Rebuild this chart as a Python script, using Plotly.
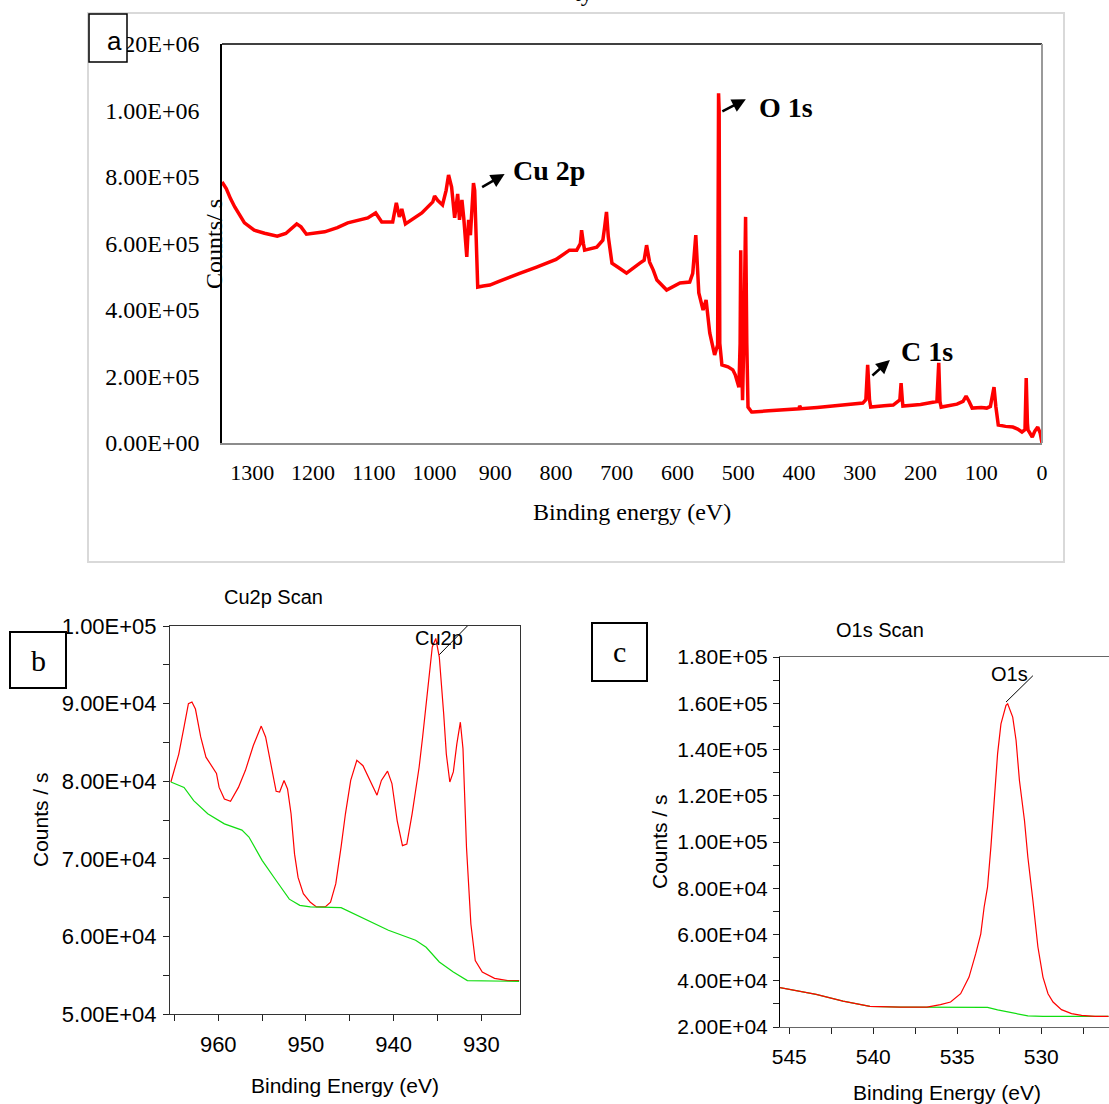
import plotly.graph_objects as go

W, H = 1109, 1104

# ---------------- Panel a: survey spectrum ----------------
survey_ev = [1350, 1343, 1336, 1329, 1313, 1297, 1280, 1259, 1245, 1235, 1227, 1220, 1211,
             1181, 1160, 1143, 1110, 1097, 1087, 1069, 1063, 1058, 1054, 1048, 1021, 1003,
             1000, 995, 987, 981, 977, 972, 967, 962, 959, 955, 952, 947, 944, 941, 936,
             934, 930, 929, 920, 909, 895, 881, 860, 832, 800, 778, 766, 760, 758, 755,
             753, 733, 723, 720, 717, 714, 708, 695, 684, 662, 655, 651, 647, 646, 640,
             634, 618, 596, 580, 575, 570, 567, 565, 558, 553, 550, 547, 539, 535, 534,
             532.5, 531.5, 530.5, 527, 517, 509, 505, 502, 499, 497, 496, 495, 493, 491,
             488, 486, 484, 478, 476, 450, 420, 400, 399, 397, 370, 344, 320, 295, 290,
             287, 284, 282, 260, 245, 234, 232, 230, 229, 200, 185, 173, 170, 168, 166,
             140, 130, 125, 120, 115, 100, 91, 85, 79, 76, 72, 60, 48, 40, 33, 28, 26,
             24, 23, 16, 12, 7, 3, 0]
survey_counts = [785000, 765000, 735000, 710000, 662000, 640000, 631000, 622000, 630000,
                 645000, 659000, 650000, 628000, 635000, 648000, 662000, 677000, 692000,
                 665000, 665000, 722000, 680000, 704000, 659000, 692000, 725000, 743000,
                 730000, 716000, 760000, 806000, 770000, 677000, 749000, 671000, 731000,
                 677000, 560000, 671000, 625000, 782000, 760000, 480000, 469000, 472000,
                 475000, 485000, 496000, 510000, 529000, 552000, 580000, 580000, 600000,
                 640000, 600000, 580000, 589000, 610000, 650000, 695000, 620000, 541000,
                 525000, 511000, 541000, 550000, 595000, 560000, 544000, 520000, 490000,
                 460000, 481000, 484000, 510000, 625000, 540000, 451000, 400000, 430000,
                 380000, 331000, 265000, 289000, 295000, 1052000, 1000000, 300000, 235000,
                 229000, 220000, 205000, 190000, 168000, 300000, 580000, 300000, 129000,
                 300000, 680000, 300000, 108000, 93000, 93000, 97000, 100000, 103000,
                 112000, 103000, 107000, 111000, 115000, 120000, 130000, 235000, 130000,
                 108000, 112000, 114000, 130000, 180000, 130000, 111000, 116000, 120000,
                 125000, 241000, 125000, 108000, 117000, 125000, 141000, 125000, 105000,
                 107000, 105000, 110000, 168000, 110000, 54000, 50000, 48000, 42000, 33000,
                 40000, 195000, 60000, 39000, 18000, 35000, 48000, 30000, 0]
survey_xticks = [1300, 1200, 1100, 1000, 900, 800, 700, 600, 500, 400, 300, 200, 100, 0]
survey_yticks = [0, 200000, 400000, 600000, 800000, 1000000, 1200000]
survey_yticktext = ["0.00E+00", "2.00E+05", "4.00E+05", "6.00E+05", "8.00E+05",
                    "1.00E+06", "1.20E+06"]

# ---------------- Panel b: Cu2p scan ----------------
cu_ev = [965.4, 964.5, 963.9, 963.4, 963.0, 962.6, 962.0, 961.4, 960.2, 959.9, 959.3,
         958.6, 957.7, 956.9, 956.0, 955.1, 954.6, 954.0, 953.4, 953.0, 952.5, 952.1,
         951.7, 951.3, 950.9, 950.3, 949.5, 948.8, 947.8, 947.2, 946.6, 946.0, 945.5,
         944.9, 944.2, 943.5, 942.7, 941.9, 941.4, 940.7, 940.2, 939.6, 939.0, 938.5,
         937.9, 937.1, 936.7, 936.1, 935.6, 935.2, 934.8, 934.3, 934.0, 933.6, 933.2,
         932.8, 932.4, 932.1, 931.7, 931.2, 930.7, 929.9, 928.5, 927.0, 925.7]
cu_counts = [79900, 83500, 87000, 90000, 90200, 89300, 85700, 83100, 81000, 79200, 77700,
             77400, 79200, 81400, 84600, 87100, 85700, 82300, 78700, 78600, 80100, 79000,
             75800, 70600, 67600, 65500, 64400, 63800, 63800, 64400, 66800, 71500, 75800,
             80100, 82700, 82000, 80100, 78200, 80100, 81300, 79700, 74900, 71700, 71900,
             75800, 81800, 85700, 92100, 97300, 98400, 96000, 88700, 83500, 79900, 81200,
             84800, 87600, 84200, 71500, 61600, 56900, 55400, 54600, 54300, 54300]
cu_bg_ev = [965.4, 963.9, 962.8, 961.2, 959.3, 957.3, 956.5, 955.0, 953.4, 951.9, 950.7,
            949.5, 946.0, 943.7, 940.6, 937.5, 936.3, 934.8, 933.2, 931.6, 925.7]
cu_bg_counts = [79900, 79200, 77500, 75800, 74500, 73700, 72800, 69800, 67200, 64800, 64000,
                63800, 63700, 62500, 60800, 59500, 58600, 56700, 55400, 54300, 54200]
cu_xtickvals = [965, 960, 955, 950, 945, 940, 935, 930]
cu_xticktext = ["", "960", "", "950", "", "940", "", "930"]
cu_ytickvals = [50000, 55000, 60000, 65000, 70000, 75000, 80000, 85000, 90000, 95000, 100000]
cu_yticktext = ["5.00E+04", "", "6.00E+04", "", "7.00E+04", "", "8.00E+04", "",
                "9.00E+04", "", "1.00E+05"]

# ---------------- Panel c: O1s scan ----------------
o_ev = [545.55, 544.8, 543.4, 541.8, 540.2, 538.4, 536.8, 536.0, 535.4, 534.8, 534.3, 533.9,
        533.6, 533.4, 533.2, 533.0, 532.8, 532.6, 532.4, 532.1, 532.0, 531.7, 531.5, 531.3,
        531.0, 530.8, 530.5, 530.2, 529.9, 529.6, 529.3, 528.8, 528.2, 527.6, 526.8, 526.0]
o_counts = [37000, 36100, 34100, 31200, 28900, 28600, 28600, 29700, 30800, 34400, 41600,
            51700, 60300, 71900, 80500, 97800, 118000, 138200, 151100, 159100, 159800,
            154000, 143900, 126600, 109300, 93500, 74800, 54600, 41600, 34400, 30800, 27500,
            25800, 25000, 24600, 24600]
o_bg_ev = [545.55, 544.8, 543.4, 541.8, 540.2, 538.4, 534.8, 533.2, 532.6, 531.9, 530.8,
           529.9, 526.0]
o_bg_counts = [37000, 35900, 34100, 31200, 28900, 28600, 28600, 28500, 27400, 26400, 24800,
               24600, 24600]
o_xtickvals = [545, 542.5, 540, 537.5, 535, 532.5, 530, 527.5]
o_xticktext = ["545", "", "540", "", "535", "", "530", ""]
o_ytickvals = [20000, 30000, 40000, 50000, 60000, 70000, 80000, 90000, 100000, 110000,
               120000, 130000, 140000, 150000, 160000, 170000, 180000]
o_yticktext = ["2.00E+04", "", "4.00E+04", "", "6.00E+04", "", "8.00E+04", "", "1.00E+05",
               "", "1.20E+05", "", "1.40E+05", "", "1.60E+05", "", "1.80E+05"]


def pxx(p):
    return p / W


def pxy(p):
    return 1 - p / H


SERIF = "Liberation Serif, Times New Roman, serif"
SANS = "Liberation Sans, Arial, sans-serif"

fig = go.Figure()
fig.add_trace(go.Scatter(x=survey_ev, y=survey_counts, mode="lines",
                         line=dict(color="#ff0000", width=3.5), xaxis="x", yaxis="y",
                         showlegend=False))
fig.add_trace(go.Scatter(x=cu_ev, y=cu_counts, mode="lines",
                         line=dict(color="#ff0000", width=1.2), xaxis="x2", yaxis="y2",
                         showlegend=False))
fig.add_trace(go.Scatter(x=cu_bg_ev, y=cu_bg_counts, mode="lines",
                         line=dict(color="#11dd11", width=1.2), xaxis="x2", yaxis="y2",
                         showlegend=False))
fig.add_trace(go.Scatter(x=o_bg_ev, y=o_bg_counts, mode="lines",
                         line=dict(color="#11dd11", width=1.2), xaxis="x3", yaxis="y3",
                         showlegend=False))
fig.add_trace(go.Scatter(x=o_ev, y=o_counts, mode="lines",
                         line=dict(color="#ff0000", width=1.2), xaxis="x3", yaxis="y3",
                         showlegend=False))

fig.update_layout(
    width=W, height=H, margin=dict(l=0, r=0, t=0, b=0, pad=0, autoexpand=False),
    paper_bgcolor="white", plot_bgcolor="white",
    xaxis=dict(domain=[pxx(222), pxx(1042)], range=[1350, 0], anchor="y", automargin=False,
               tickmode="array", tickvals=survey_xticks, ticktext=[str(v) for v in survey_xticks],
               showgrid=False, zeroline=False, showline=True, linecolor="#8c8c8c", linewidth=2,
               ticks="", ticklabelstandoff=9,
               tickfont=dict(family=SERIF, size=22, color="black")),
    yaxis=dict(domain=[pxy(443), pxy(44)], range=[0, 1200000], anchor="x", automargin=False,
               tickmode="array", tickvals=survey_yticks, ticktext=survey_yticktext,
               showgrid=False, zeroline=False, showline=True, linecolor="black", linewidth=1.5,
               ticks="", ticklabelstandoff=16,
               tickfont=dict(family=SERIF, size=24, color="black")),
    xaxis2=dict(domain=[pxx(170), pxx(520)], range=[965.5, 925.6], anchor="y2",
                automargin=False,
                tickmode="array", tickvals=cu_xtickvals, ticktext=cu_xticktext,
                showgrid=False, zeroline=False, showline=True, mirror=True,
                linecolor="#333333", linewidth=1, ticks="outside", ticklen=6, tickcolor="#222",
                ticklabelstandoff=5,
                tickfont=dict(family=SANS, size=22, color="black")),
    yaxis2=dict(domain=[pxy(1014), pxy(626)], range=[50000, 100000], anchor="x2",
                automargin=False,
                tickmode="array", tickvals=cu_ytickvals, ticktext=cu_yticktext,
                showgrid=False, zeroline=False, showline=True, mirror=True,
                linecolor="#333333", linewidth=1, ticks="outside", ticklen=6, tickcolor="#222",
                ticklabelstandoff=2,
                tickfont=dict(family=SANS, size=22, color="black")),
    xaxis3=dict(domain=[pxx(780), 1.0], range=[545.55, 525.97], anchor="y3",
                automargin=False,
                tickmode="array", tickvals=o_xtickvals, ticktext=o_xticktext,
                showgrid=False, zeroline=False, showline=True, mirror=True,
                linecolor="#666666", linewidth=1, ticks="outside", ticklen=6, tickcolor="#222",
                ticklabelstandoff=5,
                tickfont=dict(family=SANS, size=21, color="black")),
    yaxis3=dict(domain=[pxy(1027), pxy(657)], range=[20000, 180000], anchor="x3",
                automargin=False,
                tickmode="array", tickvals=o_ytickvals, ticktext=o_yticktext,
                showgrid=False, zeroline=False, showline=True, mirror=False,
                linecolor="black", linewidth=1, ticks="outside", ticklen=6, tickcolor="#222",
                ticklabelstandoff=1,
                tickfont=dict(family=SANS, size=21, color="black")),
)

shapes = [
    # outer light border of panel a
    dict(type="rect", xref="paper", yref="paper", x0=pxx(88), x1=pxx(1064), y0=pxy(562),
         y1=pxy(13), line=dict(color="#d9d9d9", width=2), layer="below"),
    # panel a top and right frame lines
    dict(type="line", xref="x domain", yref="y domain", x0=0, x1=1, y0=1, y1=1,
         line=dict(color="black", width=1.5)),
    dict(type="line", xref="x domain", yref="y domain", x0=1, x1=1, y0=0, y1=1,
         line=dict(color="#9a9a9a", width=2)),
    # label boxes
    dict(type="rect", xref="paper", yref="paper", x0=pxx(89), x1=pxx(127), y0=pxy(62),
         y1=pxy(14), line=dict(color="black", width=1.5), fillcolor="white", layer="above"),
    dict(type="rect", xref="paper", yref="paper", x0=pxx(10), x1=pxx(66), y0=pxy(688),
         y1=pxy(632), line=dict(color="black", width=2), fillcolor="white", layer="above"),
    dict(type="rect", xref="paper", yref="paper", x0=pxx(592), x1=pxx(647), y0=pxy(681),
         y1=pxy(623), line=dict(color="black", width=2), fillcolor="white", layer="above"),
    # peak leader lines
    dict(type="line", xref="x2", yref="y2", x0=934.8, y0=96300, x1=931.6, y1=100000,
         line=dict(color="black", width=1)),
    dict(type="line", xref="x3", yref="y3", x0=532.1, y0=160500, x1=530.5, y1=171900,
         line=dict(color="black", width=1)),
]

ann = []


def txt(x, y, s, fam, size, angle=0, bold=False, xanchor="center", yanchor="middle"):
    if bold:
        s = "<b>" + s + "</b>"
    ann.append(dict(x=pxx(x), y=pxy(y), xref="paper", yref="paper", text=s, showarrow=False,
                    font=dict(family=fam, size=size, color="black"), textangle=angle,
                    xanchor=xanchor, yanchor=yanchor))


# panel a texts
txt(632, 512, "Binding energy (eV)", SERIF, 24)
txt(214, 244, "Counts/ s", SERIF, 24, angle=-90)
txt(114, 41, "a", SANS, 26)
txt(549, 170, "Cu 2p", SERIF, 28, bold=True)
txt(786, 108, "O 1s", SERIF, 28, bold=True)
txt(927, 351, "C 1s", SERIF, 28, bold=True)
ann.append(dict(x=pxx(583), y=pxy(8), xref="paper", yref="paper", text="ty", showarrow=False,
                font=dict(family=SERIF, size=24, color="black"), xanchor="center",
                yanchor="bottom"))

# arrows of panel a
for hx, hy, dx, dy in [(884.7, 809000, -24, 14), (487.6, 1034000, -25, 13),
                       (250.4, 250000, -19, 17)]:
    ann.append(dict(x=hx, y=hy, xref="x", yref="y", text="", showarrow=True, ax=dx, ay=dy,
                    arrowhead=2, arrowsize=1.1, arrowwidth=2.5, arrowcolor="black",
                    standoff=0, startstandoff=0))

# panel b texts
txt(273, 597, "Cu2p Scan", SANS, 20)
txt(40, 820, "Counts / s", SANS, 21, angle=-90)
txt(345, 1085, "Binding Energy (eV)", SANS, 21)
txt(38, 660, "b", SERIF, 30)
ann.append(dict(x=934.8, y=98500, xref="x2", yref="y2", text="Cu2p", showarrow=False,
                font=dict(family=SANS, size=20, color="black")))

# panel c texts
txt(880, 630, "O1s Scan", SANS, 20)
txt(660, 842, "Counts / s", SANS, 21, angle=-90)
txt(947, 1092, "Binding Energy (eV)", SANS, 21)
txt(619, 651, "c", SERIF, 30)
ann.append(dict(x=531.9, y=172800, xref="x3", yref="y3", text="O1s", showarrow=False,
                font=dict(family=SANS, size=20, color="black")))

fig.update_layout(shapes=shapes, annotations=ann)
fig.write_html("out.html")
